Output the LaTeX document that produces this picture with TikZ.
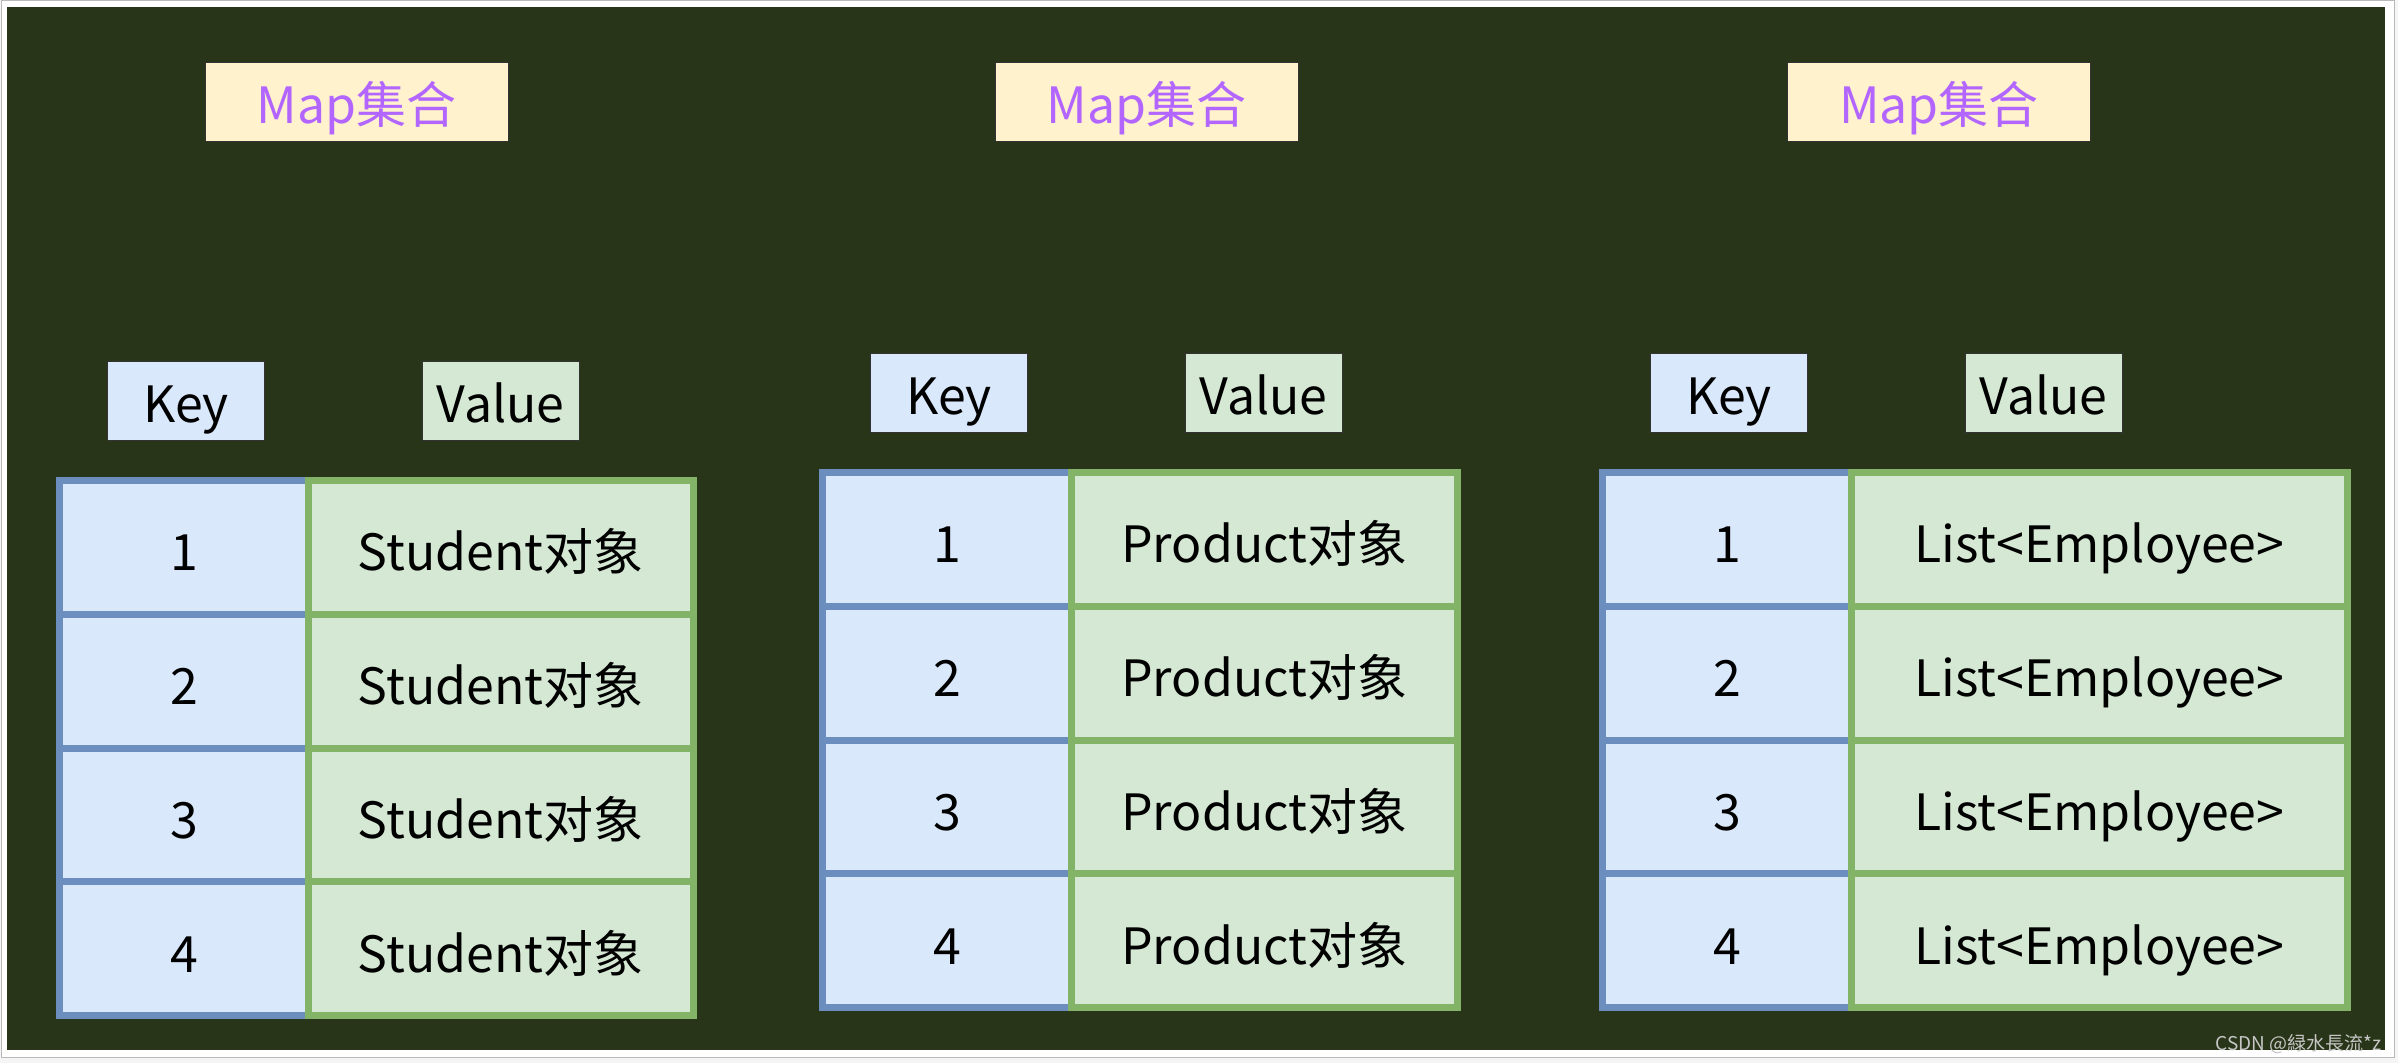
\documentclass[tikz,border=0pt]{standalone}
\usepackage{fontspec}
\setmainfont{Noto Sans CJK SC}
\usetikzlibrary{calc}

\definecolor{board}{RGB}{41,53,24}
\definecolor{keyfill}{HTML}{DAE8FC}
\definecolor{keyline}{HTML}{6C8EBF}
\definecolor{valfill}{HTML}{D5E8D4}
\definecolor{valline}{HTML}{82B366}
\definecolor{mapfill}{HTML}{FFF2CC}
\definecolor{maptext}{HTML}{B266FF}

\tikzset{
  txt/.style={font=\fontsize{25}{30}\selectfont, inner sep=0pt, text depth=0pt},
  cellbox/.style={txt, line width=3.5pt, minimum height=66.875pt, text height=23.5pt},
  keycell/.style={cellbox, draw=keyline, fill=keyfill, minimum width=124.5pt},
  valcell/.style={cellbox, draw=valline, fill=valfill},
  headbox/.style={txt, draw=black!80, line width=0.5pt, minimum height=39.5pt, text height=21.5pt},
  keyhead/.style={headbox, fill=keyfill, minimum width=78.5pt},
  valhead/.style={headbox, fill=valfill, minimum width=78.5pt},
  maphead/.style={headbox, fill=mapfill, text=maptext, minimum width=151.5pt}
}

\begin{document}
\begin{tikzpicture}[x=0.5pt, y=-0.5pt]

\useasboundingbox (0,0) rectangle (2398,1063);
\fill[gray!8] (0,0) rectangle (2398,1063);
\draw[gray!55, fill=white, line width=0.5pt] (1,1) rectangle (2394,1057);
\fill[board] (7,7) rectangle (2385,1050);

\foreach \i/\x in {1/356.5, 2/1146.5, 3/1939}
  \node[maphead] (map\i) at (\x, 102.5) {Map集合};

\foreach \t/\l/\tp/\vw/\val in {1/56/477/385.5/Student对象, 2/819/469/386.5/Product对象, 3/1599/469/496.5/List<Employee>} {
  \node[keyhead] (key\t) at ({\l+130}, {\tp-75.5}) {Key};
  \node[valhead] (val\t) at ({\l+444.5}, {\tp-75.5}) {Value};
  \foreach \r in {1,...,4}
    \node[keycell] (k\t-\r) at ({\l+128}, {\tp+3.5+(\r-0.5)*133.75}) {\r};
  \foreach \r in {1,...,4}
    \node[valcell, minimum width=\vw*0.5pt] (v\t-\r) at ({\l+252+\vw/2}, {\tp+3.5+(\r-0.5)*133.75}) {\val};
}

\node[font=\fontsize{9.5}{11}\selectfont, text=gray!45, anchor=base east, inner sep=0pt] (mark) at (2382,1050) {CSDN @緑水長流*z};

\end{tikzpicture}
\end{document}
